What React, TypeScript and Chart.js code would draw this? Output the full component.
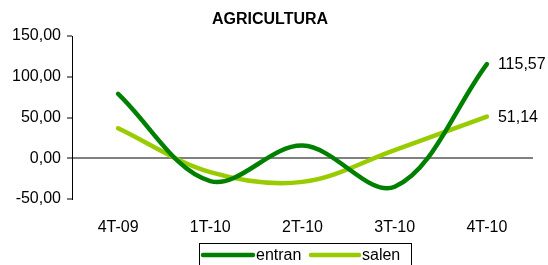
import React, { useEffect, useRef } from "react";
import { Chart, registerables } from "chart.js";

Chart.register(...registerables);

const title = "AGRICULTURA";
const categories = ["4T-09", "1T-10", "2T-10", "3T-10", "4T-10"];
const seriesNames = ["entran", "salen"];
const entran = [79, -28, 15.5, -35, 115.57];
const salen = [36.7, -17, -29, 10, 51.14];
const yTicks = [-50, 0, 50, 100, 150];
const colors = ["#008000", "#99CC00"];

const FONT = "'Liberation Sans', Arial, sans-serif";
const fmt = (v: number) => v.toFixed(2).replace(".", ",");

export default function App() {
  const ref = useRef<HTMLCanvasElement | null>(null);

  useEffect(() => {
    const canvas = ref.current;
    if (!canvas) return;

    const overlay = {
      id: "overlay",
      afterDraw(chart: any) {
        const ctx = chart.ctx as CanvasRenderingContext2D;
        ctx.save();
        // title
        ctx.fillStyle = "#000";
        ctx.font = `bold 16px ${FONT}`;
        ctx.textAlign = "center";
        ctx.textBaseline = "middle";
        ctx.fillText(title, 270, 20);

        // end labels
        ctx.font = `16px ${FONT}`;
        ctx.textAlign = "left";
        chart.data.datasets.forEach((ds: any, i: number) => {
          const meta = chart.getDatasetMeta(i);
          const last = meta.data[meta.data.length - 1];
          const v = ds.data[ds.data.length - 1];
          ctx.fillText(fmt(v), last.x + 11, last.y + 1);
        });

        // legend box
        ctx.strokeStyle = "#000";
        ctx.lineWidth = 1;
        ctx.strokeRect(199.5, 243.5, 212, 30);
        const items = [
          { x0: 203, x1: 253, tx: 256 },
          { x0: 311, x1: 359, tx: 362 },
        ];
        const ly = 255;
        items.forEach((it, i) => {
          ctx.strokeStyle = colors[i];
          ctx.lineWidth = 4.5;
          ctx.lineCap = "round";
          ctx.beginPath();
          ctx.moveTo(it.x0, ly);
          ctx.lineTo(it.x1, ly);
          ctx.stroke();
          ctx.fillStyle = "#000";
          ctx.font = `16px ${FONT}`;
          ctx.textAlign = "left";
          ctx.textBaseline = "middle";
          ctx.fillText(seriesNames[i], it.tx, ly + 1);
        });
        ctx.restore();
      },
    };

    const chart = new Chart(canvas, {
      type: "line",
      data: {
        labels: categories,
        datasets: [
          {
            label: seriesNames[0],
            data: entran,
            borderColor: colors[0],
            backgroundColor: colors[0],
            borderWidth: 4.5,
            pointRadius: 0,
            tension: 0.35,
            borderCapStyle: "round",
          },
          {
            label: seriesNames[1],
            data: salen,
            borderColor: colors[1],
            backgroundColor: colors[1],
            borderWidth: 4.5,
            pointRadius: 0,
            tension: 0.35,
            borderCapStyle: "round",
          },
        ],
      },
      options: {
        responsive: false,
        animation: false,
        layout: { padding: { left: 0, right: 15, top: 36, bottom: 0 } },
        plugins: {
          legend: { display: false },
          title: { display: false },
          tooltip: { enabled: false },
        },
        scales: {
          x: {
            offset: true,
            grid: { display: false, drawTicks: false },
            border: { display: false },
            ticks: {
              color: "#000",
              font: { family: FONT, size: 16 },
              padding: 19,
              maxRotation: 0,
            },
            afterFit: (s: any) => {
              s.height = 66;
            },
          },
          y: {
            min: yTicks[0],
            max: yTicks[yTicks.length - 1],
            afterBuildTicks: (s: any) => {
              s.ticks = yTicks.map((v) => ({ value: v }));
            },
            grid: {
              color: (c: any) => (c.tick && c.tick.value === 0 ? "#808080" : "rgba(0,0,0,0)"),
              lineWidth: 2,
              tickColor: "#000",
              tickLength: 5,
              tickWidth: 1,
            },
            border: { display: true, color: "#000", width: 1 },
            ticks: {
              color: "#000",
              font: { family: FONT, size: 16 },
              padding: 6,
              callback: (v: any) => fmt(Number(v)),
            },
            afterFit: (s: any) => {
              s.width = 72;
            },
          },
        },
      },
      plugins: [overlay],
    });

    return () => chart.destroy();
  }, []);

  return (
    <div style={{ position: "fixed", left: 0, top: 0, width: 548, height: 265, background: "#fff" }}>
      <canvas ref={ref} width={548} height={265} style={{ width: 548, height: 265, display: "block" }} />
    </div>
  );
}
